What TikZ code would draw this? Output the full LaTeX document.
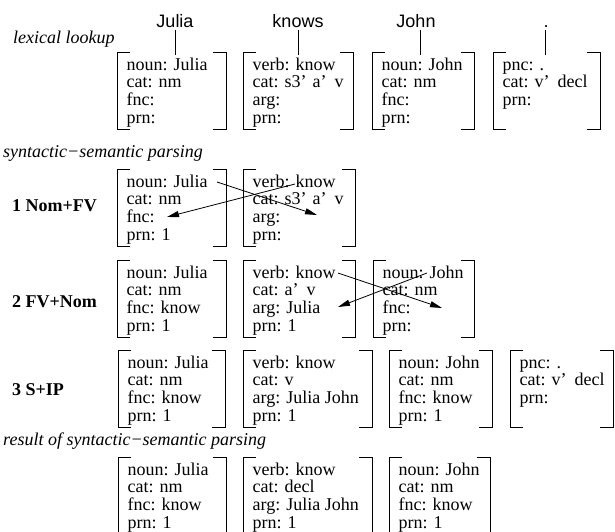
\documentclass[tikz,border=0pt]{standalone}
\usepackage{fontspec}
\setmainfont{Liberation Serif}
\newfontfamily\helv{Liberation Sans}
\usetikzlibrary{arrows.meta}

\newcommand{\fsrows}[1]{\begin{tabular}[t]{@{}l@{}}#1\end{tabular}}
\newcommand{\gapq}{\hspace{8pt}}

% name, left, right, top, text
\newcommand{\featbox}[5]{%
  \node[fsframe, minimum width={#3-#2}] (#1) at (#2,#4) {};
  \draw[brk] ([xshift=13pt]#1.north west) -- (#1.north west) -- (#1.south west) -- ([xshift=13pt]#1.south west);
  \draw[brk] ([xshift=-13pt]#1.north east) -- (#1.north east) -- (#1.south east) -- ([xshift=-13pt]#1.south east);
  \node[fstext] (#1t) at ([shift={(9.5pt,-18pt)}]#1.north west) {\fsrows{#5}};
}

\tikzset{
  fsframe/.style={draw=none, inner sep=0pt, outer sep=0pt, anchor=north west, minimum height=77pt},
  brk/.style={line width=1pt, line cap=butt},
  fstext/.style={inner sep=0pt, anchor=base west, font=\fontsize{18}{17.8}\selectfont},
  word/.style={inner sep=0pt, anchor=base, font=\helv\fontsize{18}{20}\selectfont},
  stem/.style={line width=0.8pt},
  section/.style={inner sep=0pt, anchor=base west, font=\itshape\fontsize{18}{20}\selectfont},
  rowlab/.style={inner sep=0pt, anchor=base west, font=\bfseries\fontsize{18}{20}\selectfont},
  arr/.style={line width=0.8pt, -{Triangle[length=12pt,width=6pt]}}
}

\begin{document}
\begin{tikzpicture}[x=1pt, y=-1pt]
\useasboundingbox (0,0) rectangle (615,531);
\clip (0,0) rectangle (615,531);

% lexical lookup
\node[word] (w1) at (175,27) {Julia};
\node[word] (w2) at (298,27) {knows};
\node[word] (w3) at (416,27) {John};
\node[word] (w4) at (546,27) {.};
\node[section] (lex) at (13,43) {lexical lookup};

\featbox{b01}{117}{226}{52}{noun: Julia\\cat: nm\\fnc:\\prn:}
\featbox{b02}{243}{353}{52}{verb: know\\cat: s3’\hspace{6pt}a’\gapq v\\arg:\\prn:}
\featbox{b03}{372}{474}{52}{noun: John\\cat: nm\\fnc:\\prn:}
\featbox{b04}{493}{600}{52}{pnc: .\\cat: v’\gapq decl\\prn:}

\draw[stem] ([yshift=-3pt]w1.base) -- ([yshift=-3pt]w1.base |- b01.north);
\draw[stem] ([yshift=-3pt]w2.base) -- ([yshift=-3pt]w2.base |- b02.north);
\draw[stem] ([xshift=4pt,yshift=-3pt]w3.base) -- ([xshift=4pt,yshift=-3pt]w3.base |- b03.north);
\draw[stem] ([xshift=-1pt,yshift=-3pt]w4.base) -- ([xshift=-1pt,yshift=-3pt]w4.base |- b04.north);

% syntactic-semantic parsing
\node[section] (syn) at (3,157) {syntactic−semantic parsing};

% row 1
\node[rowlab] (r1) at (12,211) {1 Nom+FV};
\featbox{b11}{117}{226}{169}{noun: Julia\\cat: nm\\fnc:\\prn: 1}
\featbox{b12}{243}{355}{169}{verb: know\\cat: s3’\hspace{6pt}a’\gapq v\\arg:\\prn:}
\coordinate (a1s) at (217,182);
\coordinate (a1e) at (317,215);
\coordinate (b1s) at (295,184);
\coordinate (b1e) at (167,217);
\draw[arr] (a1s) -- (a1e);
\draw[arr] (b1s) -- (b1e);

% row 2
\node[rowlab] (r2) at (12,307) {2 FV+Nom};
\featbox{b21}{117}{226}{260}{noun: Julia\\cat: nm\\fnc: know\\prn: 1}
\featbox{b22}{243}{355}{260}{verb: know\\cat: a’\gapq v\\arg: Julia\\prn: 1}
\featbox{b23}{373}{474}{260}{noun: John\\cat: nm\\fnc:\\prn:}
\coordinate (a2s) at (338,273);
\coordinate (a2e) at (442,308);
\coordinate (b2s) at (427,273);
\coordinate (b2e) at (338,307);
\draw[arr] (a2s) -- (a2e);
\draw[arr] (b2s) -- (b2e);

% row 3
\node[rowlab] (r3) at (12,395) {3 S+IP};
\featbox{b31}{118}{225}{350}{noun: Julia\\cat: nm\\fnc: know\\prn: 1}
\featbox{b32}{243}{372}{350}{verb: know\\cat: v\\arg: Julia John\\prn: 1}
\featbox{b33}{389}{492}{350}{noun: John\\cat: nm\\fnc: know\\prn: 1}
\featbox{b34}{510}{613}{350}{pnc: .\\cat: v’\gapq decl\\prn:}

% result
\node[section] (res) at (3,445) {result of syntactic−semantic parsing};
\featbox{b41}{118}{226}{457}{noun: Julia\\cat: nm\\fnc: know\\prn: 1}
\featbox{b42}{243}{372}{457}{verb: know\\cat: decl\\arg: Julia John\\prn: 1}
\featbox{b43}{389}{490}{457}{noun: John\\cat: nm\\fnc: know\\prn: 1}
\end{tikzpicture}
\end{document}
